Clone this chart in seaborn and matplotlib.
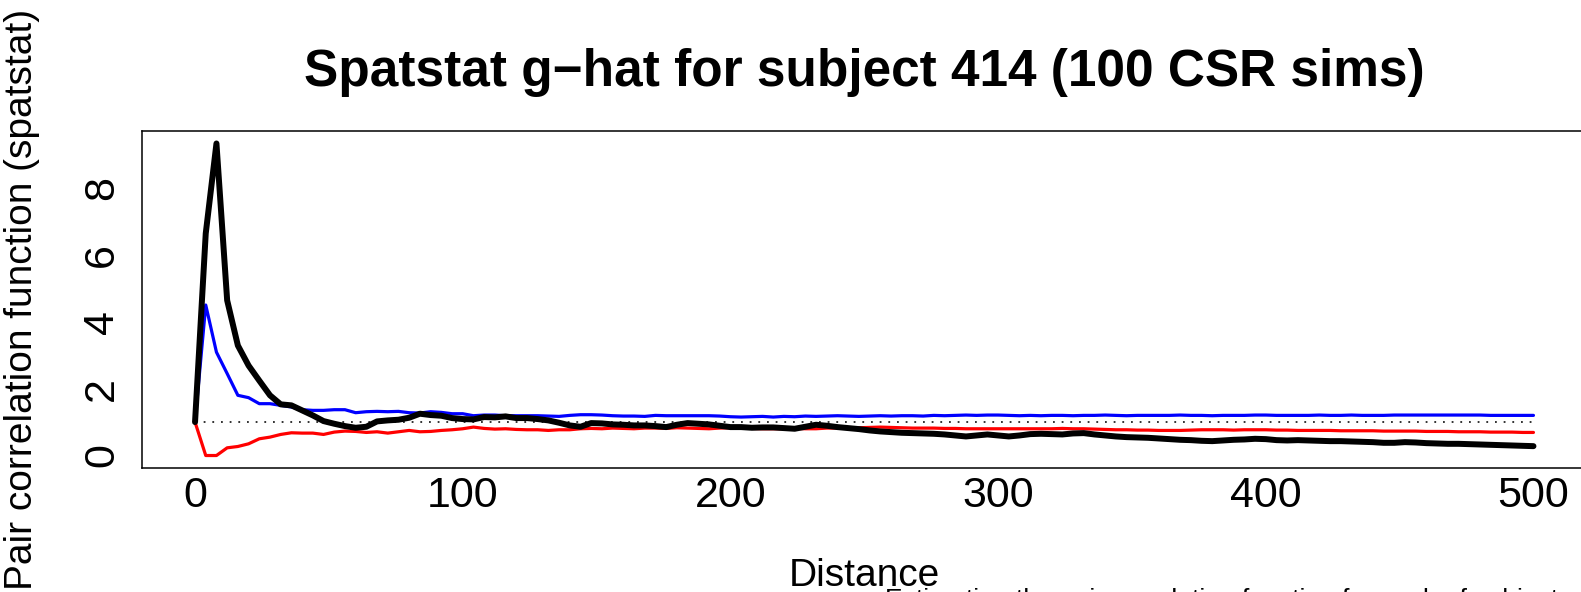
import numpy as np
import pandas as pd
import matplotlib
matplotlib.use("Agg")
import matplotlib.pyplot as plt
import seaborn as sns
from matplotlib import font_manager

# distance grid (r) and the three pair-correlation curves
r = np.arange(0, 501, 4)

g_obs = [
    1.00, 6.64, 9.33, 4.64, 3.29, 2.69, 2.24, 1.80, 1.53, 1.50,
    1.35, 1.20, 1.03, 0.95, 0.88, 0.83, 0.86, 1.02, 1.05, 1.07,
    1.13, 1.25, 1.21, 1.19, 1.12, 1.09, 1.08, 1.15, 1.14, 1.17,
    1.12, 1.12, 1.09, 1.05, 0.98, 0.90, 0.86, 0.97, 0.96, 0.93,
    0.92, 0.90, 0.90, 0.88, 0.85, 0.92, 0.97, 0.95, 0.93, 0.89,
    0.85, 0.85, 0.83, 0.84, 0.84, 0.82, 0.80, 0.86, 0.92, 0.89,
    0.85, 0.82, 0.79, 0.75, 0.72, 0.70, 0.68, 0.67, 0.66, 0.65,
    0.63, 0.60, 0.57, 0.60, 0.63, 0.60, 0.57, 0.60, 0.64, 0.65,
    0.64, 0.63, 0.66, 0.67, 0.63, 0.60, 0.57, 0.55, 0.54, 0.53,
    0.51, 0.49, 0.47, 0.46, 0.44, 0.43, 0.45, 0.47, 0.48, 0.50,
    0.49, 0.46, 0.45, 0.46, 0.45, 0.44, 0.43, 0.43, 0.42, 0.41,
    0.40, 0.38, 0.38, 0.40, 0.39, 0.37, 0.36, 0.35, 0.35, 0.34,
    0.33, 0.32, 0.31, 0.30, 0.29, 0.28,
]

g_hi = [
    1.00, 4.50, 3.09, 2.45, 1.80, 1.73, 1.55, 1.55, 1.50, 1.45,
    1.37, 1.35, 1.35, 1.37, 1.37, 1.28, 1.31, 1.32, 1.31, 1.32,
    1.28, 1.27, 1.31, 1.29, 1.25, 1.25, 1.19, 1.21, 1.21, 1.19,
    1.19, 1.19, 1.19, 1.18, 1.17, 1.20, 1.22, 1.22, 1.21, 1.19,
    1.18, 1.18, 1.17, 1.20, 1.19, 1.19, 1.19, 1.19, 1.19, 1.18,
    1.16, 1.15, 1.16, 1.17, 1.15, 1.17, 1.16, 1.18, 1.17, 1.18,
    1.19, 1.18, 1.17, 1.18, 1.19, 1.18, 1.19, 1.19, 1.18, 1.20,
    1.19, 1.20, 1.21, 1.20, 1.21, 1.21, 1.20, 1.19, 1.20, 1.19,
    1.20, 1.20, 1.19, 1.20, 1.20, 1.21, 1.20, 1.19, 1.20, 1.20,
    1.20, 1.20, 1.21, 1.20, 1.20, 1.19, 1.20, 1.20, 1.20, 1.21,
    1.21, 1.20, 1.20, 1.20, 1.20, 1.21, 1.20, 1.20, 1.21, 1.20,
    1.20, 1.20, 1.21, 1.21, 1.21, 1.21, 1.21, 1.21, 1.21, 1.21,
    1.21, 1.20, 1.20, 1.20, 1.20, 1.20,
]

g_lo = [
    1.00, 0.00, 0.00, 0.23, 0.27, 0.35, 0.50, 0.55, 0.63, 0.68,
    0.67, 0.67, 0.63, 0.70, 0.73, 0.72, 0.69, 0.71, 0.67, 0.71,
    0.75, 0.71, 0.72, 0.75, 0.77, 0.80, 0.85, 0.81, 0.79, 0.80,
    0.78, 0.77, 0.77, 0.75, 0.77, 0.77, 0.80, 0.81, 0.80, 0.82,
    0.81, 0.80, 0.82, 0.82, 0.81, 0.83, 0.82, 0.81, 0.80, 0.82,
    0.83, 0.82, 0.81, 0.80, 0.80, 0.80, 0.81, 0.80, 0.80, 0.82,
    0.82, 0.82, 0.83, 0.84, 0.85, 0.84, 0.83, 0.82, 0.82, 0.82,
    0.81, 0.81, 0.80, 0.80, 0.80, 0.80, 0.80, 0.80, 0.80, 0.80,
    0.80, 0.81, 0.80, 0.80, 0.79, 0.78, 0.77, 0.77, 0.76, 0.76,
    0.75, 0.75, 0.75, 0.76, 0.77, 0.77, 0.77, 0.76, 0.77, 0.77,
    0.77, 0.76, 0.76, 0.75, 0.75, 0.75, 0.75, 0.74, 0.74, 0.74,
    0.74, 0.73, 0.73, 0.73, 0.73, 0.72, 0.72, 0.72, 0.71, 0.71,
    0.71, 0.70, 0.70, 0.70, 0.69, 0.69,
]

g_ref = 1.0
x_ticks = [0, 100, 200, 300, 400, 500]
y_ticks = [0, 2, 4, 6, 8]

title = "Spatstat g\u2212hat for subject 414 (100 CSR sims)"
x_label = "Distance"
y_label = "Pair correlation function (spatstat)"
sub_label = "Estimating the pair correlation function for each of subjects for this label"

sns.set_theme(style="white")
available = {f.name for f in font_manager.fontManager.ttflist}
if "Liberation Sans Narrow" in available:
    family, fs_tick, fs_lab, fs_title, fs_sub = "Liberation Sans Narrow", 36, 34, 42, 23
else:
    family, fs_tick, fs_lab, fs_title, fs_sub = "Liberation Sans", 31, 28, 37, 19
plt.rcParams["font.family"] = [family, "DejaVu Sans"]
for key in ("text.color", "axes.labelcolor", "xtick.color", "ytick.color", "axes.edgecolor"):
    plt.rcParams[key] = "black"

W, H = 1581, 592
fig = plt.figure(figsize=(W / 100, H / 100), dpi=100)
# plot region (right edge lies outside the canvas)
ax = fig.add_axes([141.5 / W, (H - 468) / H, (1587 - 141.5) / W, (468 - 131) / H])

df = pd.DataFrame({"r": np.concatenate([r, r, r, r]),
                   "g": np.concatenate([g_lo, g_hi, g_obs, [g_ref] * len(r)]),
                   "curve": ["lo"] * len(r) + ["hi"] * len(r) + ["obs"] * len(r)
                            + ["ref"] * len(r)})

sns.lineplot(data=df[df.curve == "ref"], x="r", y="g", color="#222222", lw=1.3,
             dashes=False, ax=ax, estimator=None, zorder=1).lines[-1].set_dashes((1, 3.8))
sns.lineplot(data=df[df.curve == "lo"], x="r", y="g", color="#ff0000", lw=2.3, ax=ax,
             estimator=None, zorder=2)
sns.lineplot(data=df[df.curve == "hi"], x="r", y="g", color="#0000ff", lw=2.3, ax=ax,
             estimator=None, zorder=2)
sns.lineplot(data=df[df.curve == "obs"], x="r", y="g", color="black", lw=4.3, ax=ax,
             estimator=None, zorder=3, solid_capstyle="round", solid_joinstyle="round")

curves = df[df.curve != "ref"].g
lo, hi = min(curves), max(curves)
pad = 0.04 * (hi - lo)
ax.set_xlim(-20, 520)
ax.set_ylim(lo - pad, hi + pad)

ax.set_xticks(x_ticks)
ax.set_yticks(y_ticks)
ax.set_xticklabels([str(v) for v in x_ticks], fontsize=fs_tick)
ax.set_yticklabels([str(v) for v in y_ticks], fontsize=fs_tick, rotation=90, va="center")
ax.tick_params(axis="both", direction="out", length=10, width=1.1, color="black",
               labelcolor="black")
ax.tick_params(axis="x", pad=-4)
ax.tick_params(axis="y", pad=4)
for s in ax.spines.values():
    s.set_visible(True)
    s.set_color("black")
    s.set_linewidth(1.1)
ax.set_xlabel("")
ax.set_ylabel("")

cx = (141.5 + 1587) / 2 / W
fig.text(cx, 1 - 86 / H, title, ha="center", va="baseline", fontsize=fs_title,
         fontweight="bold")
fig.text(cx, 1 - 586 / H, x_label, ha="center", va="baseline", fontsize=fs_lab)
fig.text(22 / W, (H - 299.5) / H, y_label, ha="center", va="center", rotation=90,
         fontsize=fs_lab)
fig.text(885 / W, 1 - 607 / H, sub_label, ha="left", va="baseline", fontsize=fs_sub)

fig.savefig("out.png", dpi=100)
